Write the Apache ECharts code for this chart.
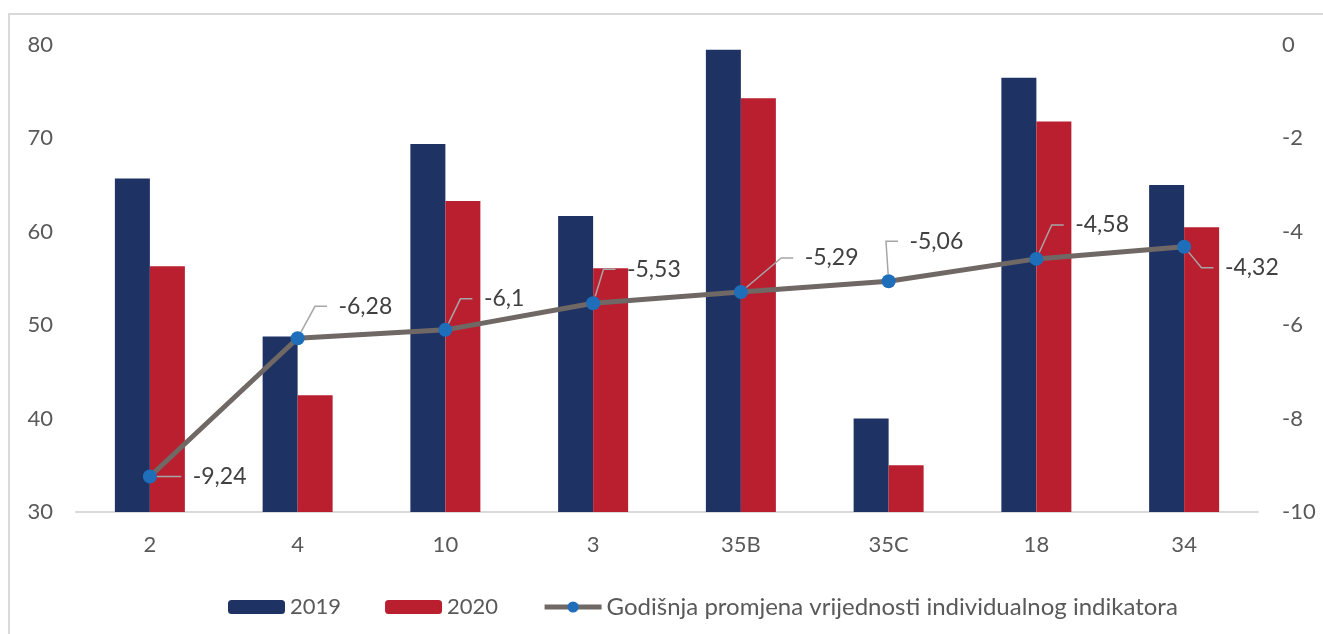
<!DOCTYPE html>
<html>
<head>
<meta charset="utf-8">
<script src="https://cdn.jsdelivr.net/npm/echarts@6/dist/echarts.min.js"></script>
<style>
html,body{margin:0;padding:0;background:#fff;}
#c{width:1323px;height:634px;}
</style>
</head>
<body>
<div id="c"></div>
<script>
const categories = ['2', '4', '10', '3', '35B', '35C', '18', '34'];
const values2019 = [65.7, 48.8, 69.4, 61.7, 79.5, 40.0, 76.5, 65.0];
const values2020 = [56.3, 42.5, 63.3, 56.1, 74.3, 35.0, 71.8, 60.5];
const change = [-9.24, -6.28, -6.1, -5.53, -5.29, -5.06, -4.58, -4.32];
const leftTicks = [30, 40, 50, 60, 70, 80];
const rightTicks = [-10, -8, -6, -4, -2, 0];
const seriesNames = ['2019', '2020', 'Godišnja promjena vrijednosti individualnog indikatora'];

// label offsets (style only)
const labelOffsets = [[64, 0], [62, -32], [53, -31], [55, -34], [85, -34], [42, -40], [60, -34], [62, 21]];

const FONT = 'Lato';
const TXT = '#595959';

const chart = echarts.init(document.getElementById('c'));
chart.setOption({
  backgroundColor: '#ffffff',
  animation: false,
  graphic: [{
    type: 'rect', silent: true, z: -10,
    shape: { x: 9, y: 14, width: 1340, height: 700 },
    style: { fill: 'none', stroke: '#d9d9d9', lineWidth: 2 }
  }],
  grid: { left: 76, right: 65, top: 45, bottom: 122 },
  legend: {
    left: 223, top: 590,
    itemWidth: 57, itemHeight: 14, itemGap: 44,
    selectedMode: false,
    textStyle: {
      fontFamily: FONT, fontSize: 22, color: TXT,
      rich: { big: { fontFamily: FONT, fontSize: 24, color: TXT } }
    },
    formatter: n => n === seriesNames[2] ? '{big|' + n + '}' : n,
    data: [seriesNames[0], seriesNames[1], {
      name: seriesNames[2],
      lineStyle: { width: 5, color: '#6F6865' },
      itemStyle: { color: '#1F6EBA' }
    }]
  },
  xAxis: {
    type: 'category', data: categories,
    axisLine: { onZero: false, lineStyle: { color: '#d9d9d9', width: 2 } },
    axisTick: { show: false },
    axisLabel: { fontFamily: FONT, fontSize: 22, color: TXT, margin: 22 }
  },
  yAxis: [{
    type: 'value', min: leftTicks[0], max: leftTicks[leftTicks.length - 1], interval: 10,
    splitLine: { show: false }, axisLine: { show: false }, axisTick: { show: false },
    axisLabel: { fontFamily: FONT, fontSize: 22, color: TXT, margin: 23 }
  }, {
    type: 'value', min: rightTicks[0], max: rightTicks[rightTicks.length - 1], interval: 2,
    position: 'right',
    splitLine: { show: false }, axisLine: { show: false }, axisTick: { show: false },
    axisLabel: { fontFamily: FONT, fontSize: 22, color: TXT, margin: 24 }
  }],
  series: [{
    name: seriesNames[0], type: 'bar', data: values2019,
    barWidth: 35, barGap: '0%',
    itemStyle: { color: '#1F3264' }
  }, {
    name: seriesNames[1], type: 'bar', data: values2020,
    barWidth: 35,
    itemStyle: { color: '#BA1F30' }
  }, {
    name: seriesNames[2], type: 'line', yAxisIndex: 1, data: change,
    lineStyle: { color: '#6F6865', width: 5 },
    itemStyle: { color: '#1F6EBA' },
    symbol: 'circle', symbolSize: 14,
    z: 5,
    label: {
      show: true, position: 'inside',
      fontFamily: FONT, fontSize: 23, color: '#404040',
      formatter: p => '\u2002' + String(p.value).replace('.', ',')
    },
    labelLine: { show: true, length2: 12, smooth: false, lineStyle: { color: '#a6a6a6', width: 1.5 } },
    labelLayout: function (params) {
      const o = labelOffsets[params.dataIndex];
      return { dx: o[0], dy: o[1] };
    }
  }]
});
</script>
</body>
</html>
